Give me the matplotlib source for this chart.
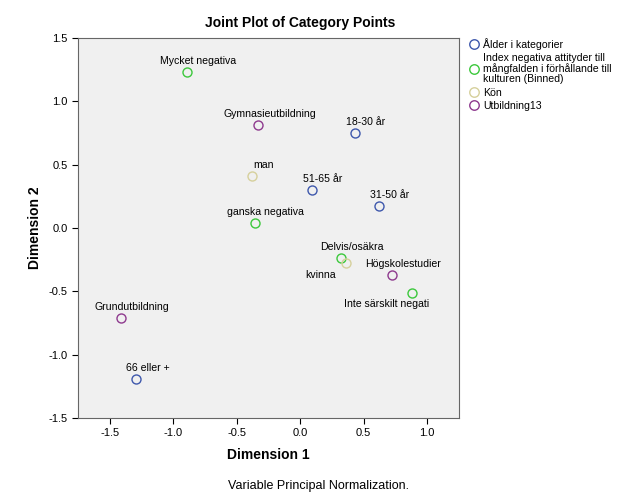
import matplotlib.pyplot as plt

plt.rcParams['font.family'] = ['Liberation Sans', 'DejaVu Sans']
plt.rcParams['axes.unicode_minus'] = False

# category points per variable
age_labels = ["18-30 år", "31-50 år", "51-65 år", "66 eller +"]
age_x = [0.43, 0.62, 0.09, -1.29]
age_y = [0.75, 0.17, 0.30, -1.19]

index_labels = ["Mycket negativa", "ganska negativa", "Delvis/osäkra", "Inte särskilt negati"]
index_x = [-0.89, -0.36, 0.32, 0.88]
index_y = [1.23, 0.04, -0.24, -0.51]

sex_labels = ["man", "kvinna"]
sex_x = [-0.38, 0.36]
sex_y = [0.41, -0.28]

edu_labels = ["Gymnasieutbildning", "Högskolestudier", "Grundutbildning"]
edu_x = [-0.33, 0.72, -1.41]
edu_y = [0.81, -0.37, -0.71]

series = [
    ("Ålder i kategorier", age_x, age_y, age_labels, "#3e58ac"),
    ("Index negativa attityder till\nmångfalden i förhållande till\nkulturen (Binned)", index_x, index_y, index_labels, "#3cc83c"),
    ("Kön", sex_x, sex_y, sex_labels, "#d6d09c"),
    ("Utbildning13", edu_x, edu_y, edu_labels, "#8e3a8e"),
]

# labels placed below-left instead of above
below = {"kvinna": (-18, -8), "Inte särskilt negati": (-18, -8)}

fig = plt.figure(figsize=(6.29, 5.04), dpi=100)
ax = fig.add_axes([78 / 629, 1 - 418 / 504, 381 / 629, 380 / 504])
ax.set_facecolor("#f0f0f0")

for name, xs, ys, labels, color in series:
    ax.plot(xs, ys, "o", mfc="none", mec=color, ms=6.5, mew=1.0, label=name, linestyle="none")
    for x, y, lab in zip(xs, ys, labels):
        dx, dy = below.get(lab, (8, 8))
        ax.annotate(lab, (x, y), xytext=(dx, dy), textcoords="offset points",
                    ha="center", va="center", fontsize=7.6)

ax.set_xlim(-1.75, 1.25)
ax.set_ylim(-1.5, 1.5)
ax.set_xticks([-1.5, -1.0, -0.5, 0.0, 0.5, 1.0])
ax.set_yticks([-1.5, -1.0, -0.5, 0.0, 0.5, 1.0, 1.5])
ax.tick_params(labelsize=8, length=4, direction="out")
for s in ax.spines.values():
    s.set_color("#666666")
ax.set_xlabel("Dimension 1", fontsize=10, fontweight="bold", labelpad=7)
ax.set_ylabel("Dimension 2", fontsize=10, fontweight="bold", labelpad=5)
fig.text(300 / 629, 1 - 23 / 504, "Joint Plot of Category Points", ha="center",
         va="center", fontsize=10, fontweight="bold")

leg = ax.legend(loc="upper left", bbox_to_anchor=(1.015, 1.012), frameon=False,
                fontsize=7.6, handletextpad=0.35, handlelength=1.0, borderaxespad=0,
                labelspacing=0.3, markerscale=1.05)
for t in leg.get_texts():
    t.set_linespacing(1.05)

fig.text(318 / 629, 1 - 486 / 504, "Variable Principal Normalization.", ha="center",
         va="center", fontsize=9)

fig.savefig("out.png", dpi=100)
